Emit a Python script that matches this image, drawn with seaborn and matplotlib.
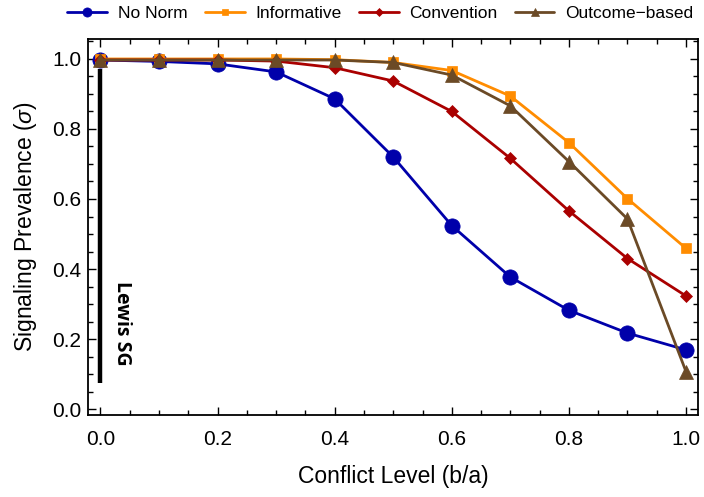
import numpy as np
import pandas as pd
import matplotlib
matplotlib.use("Agg")
import matplotlib.pyplot as plt
from matplotlib.ticker import MultipleLocator
import seaborn as sns

# Conflict levels (b/a) on the x axis
conflict = [0.0, 0.1, 0.2, 0.3, 0.4, 0.5, 0.6, 0.7, 0.8, 0.9, 1.0]

# Signaling prevalence per norm type
no_norm = [0.997, 0.993, 0.986, 0.963, 0.886, 0.720, 0.524, 0.377, 0.282, 0.217, 0.169]
informative = [1.000, 1.000, 1.000, 1.000, 0.998, 0.990, 0.967, 0.894, 0.761, 0.601, 0.459]
convention = [0.997, 0.997, 0.997, 0.994, 0.975, 0.937, 0.850, 0.716, 0.566, 0.430, 0.323]
outcome_based = [0.997, 0.997, 0.997, 0.997, 0.997, 0.990, 0.954, 0.866, 0.707, 0.543, 0.107]

series_names = ["No Norm", "Informative", "Convention", "Outcome\u2212based"]
series_values = [no_norm, informative, convention, outcome_based]

# Tick labels
tick_values = [0.0, 0.2, 0.4, 0.6, 0.8, 1.0]
tick_labels = ["0.0", "0.2", "0.4", "0.6", "0.8", "1.0"]

# Lewis signaling game reference bar at zero conflict
lewis_x = 0.0
lewis_span = (0.074, 0.97)
lewis_label = "Lewis SG"

sns.set_theme(style="ticks")
plt.rcParams["font.family"] = ["Liberation Sans", "DejaVu Sans"]
plt.rcParams["mathtext.fontset"] = "custom"
plt.rcParams["mathtext.it"] = "Liberation Sans:italic"
plt.rcParams["mathtext.rm"] = "Liberation Sans"
plt.rcParams["text.color"] = "black"
plt.rcParams["axes.labelcolor"] = "black"
plt.rcParams["xtick.color"] = "black"
plt.rcParams["ytick.color"] = "black"
plt.rcParams["axes.edgecolor"] = "black"

styles = {
    "No Norm": dict(color="#0000AA", marker="o", ms=11),
    "Informative": dict(color="#FF8C00", marker="s", ms=7.5),
    "Convention": dict(color="#AA0000", marker="D", ms=6.5),
    "Outcome\u2212based": dict(color="#6B4A26", marker="^", ms=9.5),
}

df = pd.DataFrame({
    "conflict": np.tile(conflict, len(series_names)),
    "prevalence": np.concatenate(series_values),
    "norm": np.repeat(series_names, len(conflict)),
})

fig = plt.figure(figsize=(7.04, 4.97), dpi=100)
ax = fig.add_axes([0.125, 0.165, 0.8665, 0.7565])

for name in series_names:
    st = styles[name]
    sub = df[df["norm"] == name]
    sns.lineplot(data=sub, x="conflict", y="prevalence", ax=ax,
                 color=st["color"], marker=st["marker"], markersize=st["ms"],
                 markeredgecolor=st["color"], markeredgewidth=0.5,
                 linewidth=2.0, label=name, legend=False)

ax.plot([lewis_x, lewis_x], list(lewis_span), color="black", lw=3.2,
        solid_capstyle="butt", zorder=1)
ax.text(lewis_x + 0.02, 0.245, lewis_label, rotation=-90, ha="left", va="center",
        fontsize=14, fontweight="bold", family=["Open Sans", "DejaVu Sans"])

ax.set_xlim(-0.0213, 1.0205)
ax.set_ylim(-0.017, 1.057)
ax.xaxis.set_minor_locator(MultipleLocator(0.05))
ax.yaxis.set_minor_locator(MultipleLocator(0.05))
ax.set_xticks(tick_values)
ax.set_xticklabels(tick_labels)
ax.set_yticks(tick_values)
ax.set_yticklabels(tick_labels)
ax.tick_params(which="both", direction="in", top=True, right=True, width=1.0)
ax.tick_params(which="major", length=6, labelsize=15)
ax.tick_params(axis="x", which="major", pad=11)
ax.tick_params(axis="y", which="major", pad=5)
ax.tick_params(which="minor", length=3.5)
for sp in ax.spines.values():
    sp.set_linewidth(1.3)

ax.set_xlabel("Conflict Level (b/a)", fontsize=16.5, labelpad=11)
ax.set_ylabel("Signaling Prevalence ($\\sigma$)", fontsize=16.5, labelpad=9)

handles, labels = ax.get_legend_handles_labels()
fig.legend(handles, labels, loc="upper center", bbox_to_anchor=(0.54, 1.02),
           ncol=4, frameon=False, fontsize=12.5, handlelength=2.3,
           markerscale=0.6, columnspacing=1.0, handletextpad=0.6)

fig.savefig("out.png", dpi=100)
